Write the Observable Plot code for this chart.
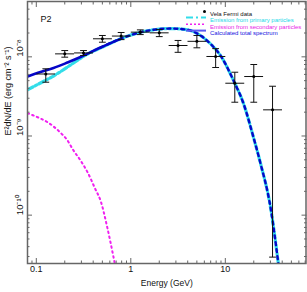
<!DOCTYPE html>
<html><head><meta charset="utf-8">
<script src="https://cdn.jsdelivr.net/npm/d3@7"></script>
<script src="https://cdn.jsdelivr.net/npm/@observablehq/plot@0.6"></script>
<style>
body{margin:0;background:#fff}
svg{font-family:"Liberation Sans",Arial,sans-serif}
</style>
</head><body><div id="chart"></div>
<script>
// Vela Fermi data (P2)
const dataE   = [0.126, 0.2, 0.316, 0.5, 0.79, 1.26, 2.0, 3.16, 5.0, 7.9, 12.6, 20.0, 31.6];
const dataELo = [0.1, 0.158, 0.251, 0.398, 0.631, 1.0, 1.585, 2.512, 3.98, 6.31, 10.0, 15.85, 25.1];
const dataEHi = [0.158, 0.251, 0.398, 0.631, 1.0, 1.585, 2.512, 3.98, 6.31, 10.0, 15.85, 25.1, 39.8];
const dataF   = [6.07e-9, 1.09e-8, 1.12e-8, 1.69e-8, 1.83e-8, 2.05e-8, 2.01e-8, 1.39e-8, 1.57e-8, 1.01e-8, 4.64e-9, 5.64e-9, 2.14e-9];
const dataFLo = [4.78e-9, 9.9e-9, 1.04e-8, 1.53e-8, 1.65e-8, 1.91e-8, 1.80e-8, 1.14e-8, 1.30e-8, 7.33e-9, 2.67e-9, 2.67e-9, 2.95e-11];
const dataFHi = [7.06e-9, 1.20e-8, 1.20e-8, 1.86e-8, 2.03e-8, 2.19e-8, 2.21e-8, 1.61e-8, 1.86e-8, 1.27e-8, 6.39e-9, 8.0e-9, 4.25e-9];

// Calculated total spectrum
const totalE = [0.0807, 0.1107, 0.1521, 0.2139, 0.2936, 0.4779, 0.778, 1.266, 1.826, 2.631, 3.981, 5.466, 6.972, 8.898, 12.21, 15.58, 19.88, 23.58, 30.09, 36.56];
const totalF = [5.64e-9, 6.43e-9, 7.22e-9, 8.47e-9, 9.94e-9, 1.31e-8, 1.688e-8, 2.045e-8, 2.212e-8, 2.277e-8, 2.193e-8, 1.857e-8, 1.459e-8, 1.038e-8, 5.02e-9, 2.57e-9, 9.57e-10, 4.5e-10, 1.251e-10, 2.35e-11];

// Emission from primary particles
const primaryE = [0.0807, 0.1107, 0.1521, 0.2301, 0.3482, 0.4779, 0.778, 1.266, 1.826, 2.631, 3.981, 5.466, 6.972, 8.898, 12.21, 15.58, 19.88, 23.58, 30.09, 36.56];
const primaryF = [3.83e-9, 4.67e-9, 5.72e-9, 7.88e-9, 1.085e-8, 1.291e-8, 1.688e-8, 2.045e-8, 2.212e-8, 2.277e-8, 2.193e-8, 1.857e-8, 1.459e-8, 1.038e-8, 5.02e-9, 2.57e-9, 9.57e-10, 4.5e-10, 1.251e-10, 2.35e-11];

// Emission from secondary particles
const secondaryE = [0.0807, 0.0934, 0.1107, 0.1314, 0.1521, 0.1804, 0.2139, 0.2475, 0.2936, 0.3482, 0.4231, 0.4779, 0.5667, 0.656, 0.7059];
const secondaryF = [1.94e-9, 1.815e-9, 1.663e-9, 1.494e-9, 1.318e-9, 1.098e-9, 8.77e-10, 6.56e-10, 4.91e-10, 3.49e-10, 2.11e-10, 1.533e-10, 6.79e-11, 2.95e-11, 1.89e-11];

// Ticks
const xMajor = [0.1, 1, 10];
const xMajorLabels = ["0.1", "1", "10"];
const xMinor = [0.09, 0.2, 0.3, 0.4, 0.5, 0.6, 0.7, 0.8, 0.9, 2, 3, 4, 5, 6, 7, 8, 9, 20, 30, 40, 50, 60, 70];
const yMajor = [1e-10, 1e-9, 1e-8];
const yMajorLabels = ["10\u207B\u00B9\u2070", "10\u207B\u2079", "10\u207B\u2078"];
const yMinor = [3e-11, 4e-11, 5e-11, 6e-11, 7e-11, 8e-11, 9e-11, 2e-10, 3e-10, 4e-10, 5e-10, 6e-10, 7e-10, 8e-10, 9e-10, 2e-9, 3e-9, 4e-9, 5e-9, 6e-9, 7e-9, 8e-9, 9e-9, 2e-8, 3e-8, 4e-8];

const legendLabels = ["Vela Fermi data", "Emission from primary particles", "Emission from secondary particles", "Calculated total spectrum"];

const points = dataE.map((e, i) => ({e, elo: dataELo[i], ehi: dataEHi[i], f: dataF[i], flo: dataFLo[i], fhi: dataFHi[i]}));
const total = totalE.map((e, i) => ({e, f: totalF[i]}));
const primary = primaryE.map((e, i) => ({e, f: primaryF[i]}));
const secondary = secondaryE.map((e, i) => ({e, f: secondaryF[i]}));

const cap = {draw(ctx, size) { const r = Math.sqrt(size) * 1.2; ctx.moveTo(-r, 0); ctx.lineTo(r, 0); }};

const CYAN = "#33dde9", BLUE = "#0606c8", MAG = "#f020f0", AX = "#666";
const tickOpts = (size) => ({stroke: AX, strokeWidth: 1, tickSize: size, fill: "none", label: null, tickFormat: () => ""});

const plot = Plot.plot({
  width: 307, height: 292,
  marginLeft: 27, marginRight: 1.5, marginTop: 1, marginBottom: 29,
  x: {type: "log", domain: [0.0807, 71.4], axis: null},
  y: {type: "log", domain: [2.45e-11, 5e-8], axis: null},
  style: {fontFamily: "Liberation Sans, Arial, sans-serif", background: "#fff"},
  marks: [
    // curves
    Plot.line(secondary, {x: "e", y: "f", stroke: MAG, strokeWidth: 2, strokeDasharray: "1.6,3.4", curve: "monotone-x", clip: true}),
    Plot.line(primary, {x: "e", y: "f", stroke: CYAN, strokeWidth: 3.2, strokeDasharray: "6,2.5,2,2.5", curve: "monotone-x", clip: true}),
    Plot.line(total, {x: "e", y: "f", stroke: BLUE, strokeWidth: 2.4, strokeDasharray: "3,4", curve: "monotone-x", clip: true,
      filter: d => d.e >= 0.4}),
    Plot.line(total, {x: "e", y: "f", stroke: BLUE, strokeWidth: 2.6, curve: "monotone-x", clip: true,
      filter: d => d.e <= 0.78}),
    // data with error bars
    Plot.link(points, {x1: "elo", x2: "ehi", y1: "f", y2: "f", stroke: "#111", strokeWidth: 1}),
    Plot.link(points, {x1: "e", x2: "e", y1: "flo", y2: "fhi", stroke: "#111", strokeWidth: 1}),
    Plot.dot(points, {x: "e", y: "flo", symbol: cap, r: 1.6, stroke: "#111", strokeWidth: 1}),
    Plot.dot(points, {x: "e", y: "fhi", symbol: cap, r: 1.6, stroke: "#111", strokeWidth: 1}),
    Plot.dot(points, {x: "e", y: "f", r: 1.5, fill: "#000"}),
    // ticks on all four sides, pointing inward
    Plot.axisX({anchor: "bottom", ticks: xMajor, ...tickOpts(-5)}),
    Plot.axisX({anchor: "bottom", ticks: xMinor, ...tickOpts(-2.5)}),
    Plot.axisX({anchor: "top", ticks: xMajor, ...tickOpts(-5)}),
    Plot.axisX({anchor: "top", ticks: xMinor, ...tickOpts(-2.5)}),
    Plot.axisY({anchor: "left", ticks: yMajor, ...tickOpts(-5)}),
    Plot.axisY({anchor: "left", ticks: yMinor, ...tickOpts(-2.5)}),
    Plot.axisY({anchor: "right", ticks: yMajor, ...tickOpts(-5)}),
    Plot.axisY({anchor: "right", ticks: yMinor, ...tickOpts(-2.5)}),
    // tick labels
    Plot.text(xMajor, {x: d => d, frameAnchor: "bottom", dy: 8, text: (d, i) => xMajorLabels[i], fontSize: 9, fill: "#111"}),
    Plot.text(yMajor, {y: d => d, frameAnchor: "left", dx: -8, rotate: -90, text: (d, i) => yMajorLabels[i], fontSize: 9.5, fill: "#111"}),
    // axis titles
    Plot.text(["Energy (GeV)"], {frameAnchor: "bottom", dy: 22, fontSize: 8.5, fill: "#111"}),
    Plot.text(["E\u00B2dN/dE (erg cm\u207B\u00B2 s\u207B\u00B9)"], {frameAnchor: "left", dx: -19, dy: 3, rotate: -90, fontSize: 9, fill: "#111"}),
    // panel label
    Plot.text(["P2"], {frameAnchor: "top-left", dx: 13, dy: 14, fontSize: 9, fill: "#111", textAnchor: "start"}),
    // legend texts
    Plot.text([legendLabels[0]], {frameAnchor: "top-right", dx: -96, dy: 10, textAnchor: "start", fontSize: 6, fill: "#111"}),
    Plot.text([legendLabels[1]], {frameAnchor: "top-right", dx: -96, dy: 16.6, textAnchor: "start", fontSize: 6, fill: "#20d8e8"}),
    Plot.text([legendLabels[2]], {frameAnchor: "top-right", dx: -96, dy: 23.2, textAnchor: "start", fontSize: 6, fill: "#e81ce8"}),
    Plot.text([legendLabels[3]], {frameAnchor: "top-right", dx: -96, dy: 29.6, textAnchor: "start", fontSize: 6, fill: "#1414e0"}),
    Plot.dot([0], {frameAnchor: "top-right", dx: -101.5, dy: 10, r: 1.5, fill: "#000"}),
    Plot.frame({stroke: AX, strokeWidth: 1.5})
  ]
});

// legend line samples
const svg = d3.select(plot);
const lg = svg.append("g");
const lx1 = 186, lx2 = 206;
lg.append("line").attr("x1", lx1).attr("x2", lx2).attr("y1", 17.6).attr("y2", 17.6)
  .attr("stroke", CYAN).attr("stroke-width", 2).attr("stroke-dasharray", "7,3,2,3");
lg.append("line").attr("x1", lx1).attr("x2", lx2).attr("y1", 24.2).attr("y2", 24.2)
  .attr("stroke", MAG).attr("stroke-width", 1.5).attr("stroke-dasharray", "2,2");
lg.append("line").attr("x1", lx1).attr("x2", lx2).attr("y1", 30.6).attr("y2", 30.6)
  .attr("stroke", "#5a5af0").attr("stroke-width", 2);

document.getElementById("chart").appendChild(plot);
</script>
</body></html>
